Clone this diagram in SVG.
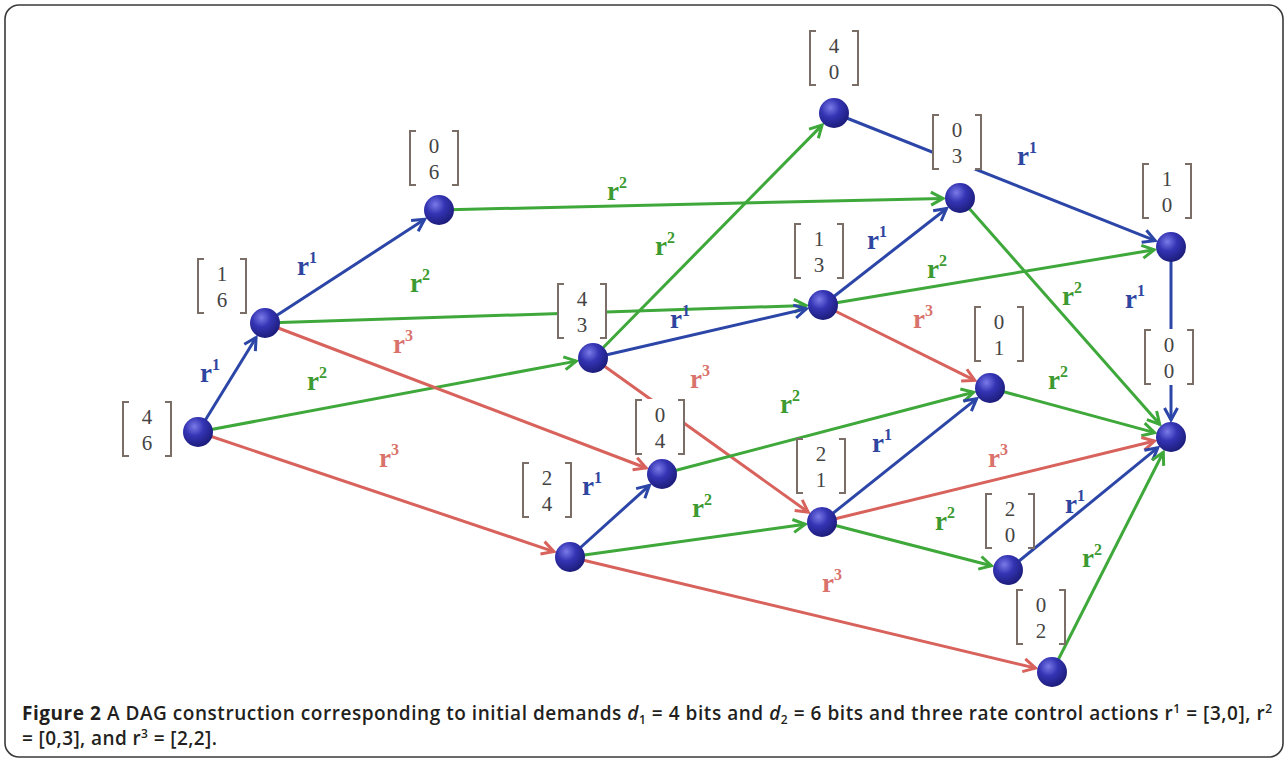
<svg xmlns="http://www.w3.org/2000/svg" xmlns:xlink="http://www.w3.org/1999/xlink" width="1288" height="761" viewBox="0 0 1288 761">
<style>
.e{fill:none;stroke-width:3;stroke-linecap:butt}
.eb{stroke:#2c46a8;marker-end:url(#ab)}
.eg{stroke:#3ea83a;marker-end:url(#ag)}
.er{stroke:#d8625c;marker-end:url(#ar)}
.lb{font-family:"Liberation Serif",serif;font-weight:bold;font-size:27px}
.lb tspan.s{font-size:16px}
.cb{fill:#2f46a0}.cg{fill:#3c9a30}.cr{fill:#d9726b}
.dg{font-family:"Liberation Serif",serif;font-size:21px;fill:#444;text-anchor:middle}
.br{fill:none;stroke:#7a6e66;stroke-width:2}
.cap{font-family:"Open Sans","Liberation Sans",sans-serif;font-size:19px;font-weight:600;fill:#231f20}
</style>
<defs>
<radialGradient id="sph" cx="0.38" cy="0.32" r="0.7">
<stop offset="0" stop-color="#7a7ae8"/>
<stop offset="0.45" stop-color="#3434b4"/>
<stop offset="1" stop-color="#1c1c7a"/>
</radialGradient>
<marker id="ab" markerUnits="userSpaceOnUse" markerWidth="18" markerHeight="18" viewBox="0 0 18 18" refX="15" refY="9" orient="auto"><path d="M3,2.5 L15,9 L3,15.5" fill="none" stroke="#2c46a8" stroke-width="3"/></marker>
<marker id="ag" markerUnits="userSpaceOnUse" markerWidth="18" markerHeight="18" viewBox="0 0 18 18" refX="15" refY="9" orient="auto"><path d="M3,2.5 L15,9 L3,15.5" fill="none" stroke="#3ea83a" stroke-width="3"/></marker>
<marker id="ar" markerUnits="userSpaceOnUse" markerWidth="18" markerHeight="18" viewBox="0 0 18 18" refX="15" refY="9" orient="auto"><path d="M3,2.5 L15,9 L3,15.5" fill="none" stroke="#d8625c" stroke-width="3"/></marker>
<g id="bk">
<rect x="-25" y="-28" width="50" height="56" fill="#fff"/>
<path class="br" d="M-18,-27 H-24 V27 H-18 M18,-27 H24 V27 H18"/>
</g>
<circle id="nd" r="15" fill="url(#sph)"/>
</defs>
<rect width="1288" height="761" fill="#fff"/>
<rect x="5" y="5" width="1278" height="752" rx="14" fill="none" stroke="#3a3a3a" stroke-width="1.6"/>

<g id="connectors">
<path class="e eb" d="M198,432 L256.1,337.5"/>
<path class="e eg" d="M198,432 L576.3,361.1"/>
<path class="e er" d="M198,432 L553.9,551.6"/>
<path class="e eb" d="M265,323 L424.7,219.3"/>
<path class="e eg" d="M265,323 L806,305.5"/>
<path class="e er" d="M265,323 L646.1,468"/>
<path class="e eg" d="M439,210 L943,198.4"/>
<path class="e eg" d="M593,358 L822.1,125.1"/>
<path class="e eb" d="M593,358 L806.4,308.8"/>
<path class="e er" d="M593,358 L808.2,512.1"/>
<path class="e eb" d="M834,113 L1155.2,240.7"/>
<path class="e eg" d="M960,198 L1159.7,424.3"/>
<path class="e eb" d="M823,305 L946.6,208.5"/>
<path class="e eg" d="M823,305 L1154.2,249.8"/>
<path class="e er" d="M823,305 L974.8,380.4"/>
<path class="e eb" d="M1171,247 L1171,420"/>
<path class="e eg" d="M990,388 L1154.6,432.6"/>
<path class="e eg" d="M662,474 L973.6,392.3"/>
<path class="e eb" d="M570,557 L649.4,485.4"/>
<path class="e eg" d="M570,557 L805.2,524.3"/>
<path class="e er" d="M570,557 L1035.5,668.1"/>
<path class="e eb" d="M822,522 L976.7,398.6"/>
<path class="e er" d="M822,522 L1154.5,441"/>
<path class="e eg" d="M822,522 L991.5,565.8"/>
<path class="e eb" d="M1008,570 L1157.8,447.7"/>
<path class="e eg" d="M1052,672 L1163.3,452.2"/>
</g>

<g id="edge-labels" class="lb">
<text class="cb" x="200" y="382">r<tspan class="s" dy="-12">1</tspan></text>
<text class="cg" x="307" y="390">r<tspan class="s" dy="-12">2</tspan></text>
<text class="cr" x="379" y="467">r<tspan class="s" dy="-12">3</tspan></text>
<text class="cb" x="297" y="275">r<tspan class="s" dy="-12">1</tspan></text>
<text class="cg" x="410" y="292">r<tspan class="s" dy="-12">2</tspan></text>
<text class="cr" x="393" y="353">r<tspan class="s" dy="-12">3</tspan></text>
<text class="cg" x="607" y="200">r<tspan class="s" dy="-12">2</tspan></text>
<text class="cg" x="655" y="255">r<tspan class="s" dy="-12">2</tspan></text>
<text class="cb" x="670" y="328">r<tspan class="s" dy="-12">1</tspan></text>
<text class="cr" x="690" y="388">r<tspan class="s" dy="-12">3</tspan></text>
<text class="cb" x="1017" y="165">r<tspan class="s" dy="-12">1</tspan></text>
<text class="cb" x="867" y="249">r<tspan class="s" dy="-12">1</tspan></text>
<text class="cg" x="927" y="278">r<tspan class="s" dy="-12">2</tspan></text>
<text class="cr" x="913" y="328">r<tspan class="s" dy="-12">3</tspan></text>
<text class="cg" x="1062" y="305">r<tspan class="s" dy="-12">2</tspan></text>
<text class="cb" x="1125" y="308">r<tspan class="s" dy="-12">1</tspan></text>
<text class="cg" x="1048" y="389">r<tspan class="s" dy="-12">2</tspan></text>
<text class="cg" x="780" y="413">r<tspan class="s" dy="-12">2</tspan></text>
<text class="cb" x="582" y="495">r<tspan class="s" dy="-12">1</tspan></text>
<text class="cg" x="692" y="517">r<tspan class="s" dy="-12">2</tspan></text>
<text class="cr" x="822" y="592">r<tspan class="s" dy="-12">3</tspan></text>
<text class="cb" x="872" y="452">r<tspan class="s" dy="-12">1</tspan></text>
<text class="cr" x="988" y="467">r<tspan class="s" dy="-12">3</tspan></text>
<text class="cg" x="935" y="530">r<tspan class="s" dy="-12">2</tspan></text>
<text class="cb" x="1065" y="513">r<tspan class="s" dy="-12">1</tspan></text>
<text class="cg" x="1082" y="567">r<tspan class="s" dy="-12">2</tspan></text>
</g>

<g id="n46"><use href="#bk" x="147" y="429"/><text class="dg" x="147" y="424">4</text><text class="dg" x="147" y="450">6</text><use href="#nd" x="198" y="432"/></g>
<g id="n16"><use href="#bk" x="222" y="286"/><text class="dg" x="222" y="281">1</text><text class="dg" x="222" y="307">6</text><use href="#nd" x="265" y="323"/></g>
<g id="n06"><use href="#bk" x="434" y="158"/><text class="dg" x="434" y="153">0</text><text class="dg" x="434" y="179">6</text><use href="#nd" x="439" y="210"/></g>
<g id="n43"><use href="#bk" x="582" y="311"/><text class="dg" x="582" y="306">4</text><text class="dg" x="582" y="332">3</text><use href="#nd" x="593" y="358"/></g>
<g id="n40"><use href="#bk" x="834" y="58"/><text class="dg" x="834" y="53">4</text><text class="dg" x="834" y="79">0</text><use href="#nd" x="834" y="113"/></g>
<g id="n03"><use href="#bk" x="957" y="142"/><text class="dg" x="957" y="137">0</text><text class="dg" x="957" y="163">3</text><use href="#nd" x="960" y="198"/></g>
<g id="n13"><use href="#bk" x="819" y="251"/><text class="dg" x="819" y="246">1</text><text class="dg" x="819" y="272">3</text><use href="#nd" x="823" y="305"/></g>
<g id="n10"><use href="#bk" x="1167" y="191"/><text class="dg" x="1167" y="186">1</text><text class="dg" x="1167" y="212">0</text><use href="#nd" x="1171" y="247"/></g>
<g id="n00"><use href="#bk" x="1169" y="357"/><text class="dg" x="1169" y="352">0</text><text class="dg" x="1169" y="378">0</text><use href="#nd" x="1171" y="437"/></g>
<g id="n01"><use href="#bk" x="999" y="334"/><text class="dg" x="999" y="329">0</text><text class="dg" x="999" y="355">1</text><use href="#nd" x="990" y="388"/></g>
<g id="n21"><use href="#bk" x="821" y="466"/><text class="dg" x="821" y="461">2</text><text class="dg" x="821" y="487">1</text><use href="#nd" x="822" y="522"/></g>
<g id="n20"><use href="#bk" x="1010" y="521"/><text class="dg" x="1010" y="516">2</text><text class="dg" x="1010" y="542">0</text><use href="#nd" x="1008" y="570"/></g>
<g id="n02"><use href="#bk" x="1041" y="617"/><text class="dg" x="1041" y="612">0</text><text class="dg" x="1041" y="638">2</text><use href="#nd" x="1052" y="672"/></g>
<g id="n04"><use href="#bk" x="660" y="427"/><text class="dg" x="660" y="422">0</text><text class="dg" x="660" y="448">4</text><use href="#nd" x="662" y="474"/></g>
<g id="n24"><use href="#bk" x="547" y="490"/><text class="dg" x="547" y="485">2</text><text class="dg" x="547" y="511">4</text><use href="#nd" x="570" y="557"/></g>

<g id="caption" class="cap">
<text x="22" y="720" textLength="1250" lengthAdjust="spacing"><tspan font-weight="bold">Figure 2</tspan> A DAG construction corresponding to initial demands <tspan font-style="italic">d</tspan><tspan font-size="12" dy="4">1</tspan><tspan dy="-4"> = 4 bits and </tspan><tspan font-style="italic">d</tspan><tspan font-size="12" dy="4">2</tspan><tspan dy="-4"> = 6 bits and three rate control actions r</tspan><tspan font-size="12" dy="-7">1</tspan><tspan dy="7"> = [3,0], r</tspan><tspan font-size="12" dy="-7">2</tspan></text>
<text x="22" y="745" textLength="195" lengthAdjust="spacing">= [0,3], and r<tspan font-size="12" dy="-7">3</tspan><tspan dy="7"> = [2,2].</tspan></text>
</g>
</svg>
